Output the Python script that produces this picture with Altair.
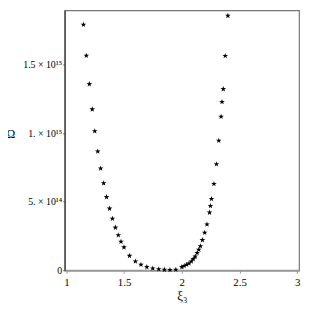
import altair as alt
import pandas as pd

xi3 = [1.148, 1.173, 1.199, 1.224, 1.246, 1.272, 1.297, 1.323, 1.348, 1.374,
       1.399, 1.425, 1.450, 1.473, 1.499, 1.547, 1.598, 1.646, 1.697, 1.748,
       1.800, 1.849, 1.897, 1.948,
       2.000, 2.020, 2.042, 2.062, 2.082, 2.099, 2.116, 2.133, 2.147, 2.161,
       2.178, 2.198, 2.218, 2.240, 2.248, 2.257, 2.278, 2.300, 2.320, 2.340,
       2.348, 2.359, 2.376, 2.399]
omega_e15 = [1.794, 1.568, 1.360, 1.176, 1.016, 0.868, 0.744, 0.636, 0.535, 0.451,
             0.377, 0.312, 0.257, 0.209, 0.168, 0.106, 0.065, 0.041, 0.024, 0.014,
             0.008, 0.004, 0.003, 0.005,
             0.024, 0.032, 0.041, 0.050, 0.065, 0.082, 0.101, 0.127, 0.151, 0.176,
             0.221, 0.275, 0.335, 0.422, 0.470, 0.521, 0.631, 0.775, 0.947, 1.122,
             1.230, 1.324, 1.566, 1.859]

x_ticks = [1, 1.5, 2, 2.5, 3]
y_ticks = [0, 5e14, 1e15, 1.5e15]
y_labels = ["0", "5. × 10¹⁴", "1. × 10¹⁵", "1.5 × 10¹⁵"]

df = pd.DataFrame({"x": xi3, "y": [v * 1e15 for v in omega_e15]})

label_expr = " : ".join(
    f"datum.value == {v:.0f} ? '{l}'" for v, l in zip(y_ticks, y_labels)
) + " : ''"

STAR = ("M0,-1L0.235,-0.324L0.951,-0.309L0.380,0.124L0.588,0.809L0,0.4"
        "L-0.588,0.809L-0.380,0.124L-0.951,-0.309L-0.235,-0.324Z")

font = "Liberation Serif"

chart = alt.Chart(df).mark_point(
    shape=STAR, filled=True, color="black", size=36, opacity=1
).encode(
    x=alt.X("x:Q", scale=alt.Scale(domain=[0.985, 3.015], nice=False, zero=False),
            axis=alt.Axis(values=x_ticks, format="~g", title="ξ₃", grid=False,
                          domainColor="#999999", domainWidth=2, tickColor="#999999",
                          tickSize=3, labelFont=font, labelFontSize=11,
                          labelColor="black", labelPadding=3,
                          titleFont=font, titleFontSize=13, titleFontWeight="normal",
                          titleColor="black", titlePadding=3)),
    y=alt.Y("y:Q", scale=alt.Scale(domain=[0, 1.899e15], nice=False),
            axis=alt.Axis(values=y_ticks, labelExpr=label_expr, title="Ω", grid=False,
                          domainColor="#333333", domainWidth=1.2, tickColor="#666666",
                          tickSize=2, labelFont=font, labelFontSize=10,
                          labelColor="black", labelPadding=1,
                          titleFont=font, titleFontSize=12, titleFontWeight="normal",
                          titleColor="black", titleAngle=0, titleAlign="center",
                          titleBaseline="middle", titleX=-55, titleY=125)),
).properties(
    width=238, height=264,
    autosize=alt.AutoSizeParams(type="none"),
    padding={"left": 57.5, "top": 0, "right": 2, "bottom": 36},
).configure_view(stroke="#777777", strokeWidth=1.2)

chart.save("out.html", embed_options={"renderer": "svg", "actions": False})
